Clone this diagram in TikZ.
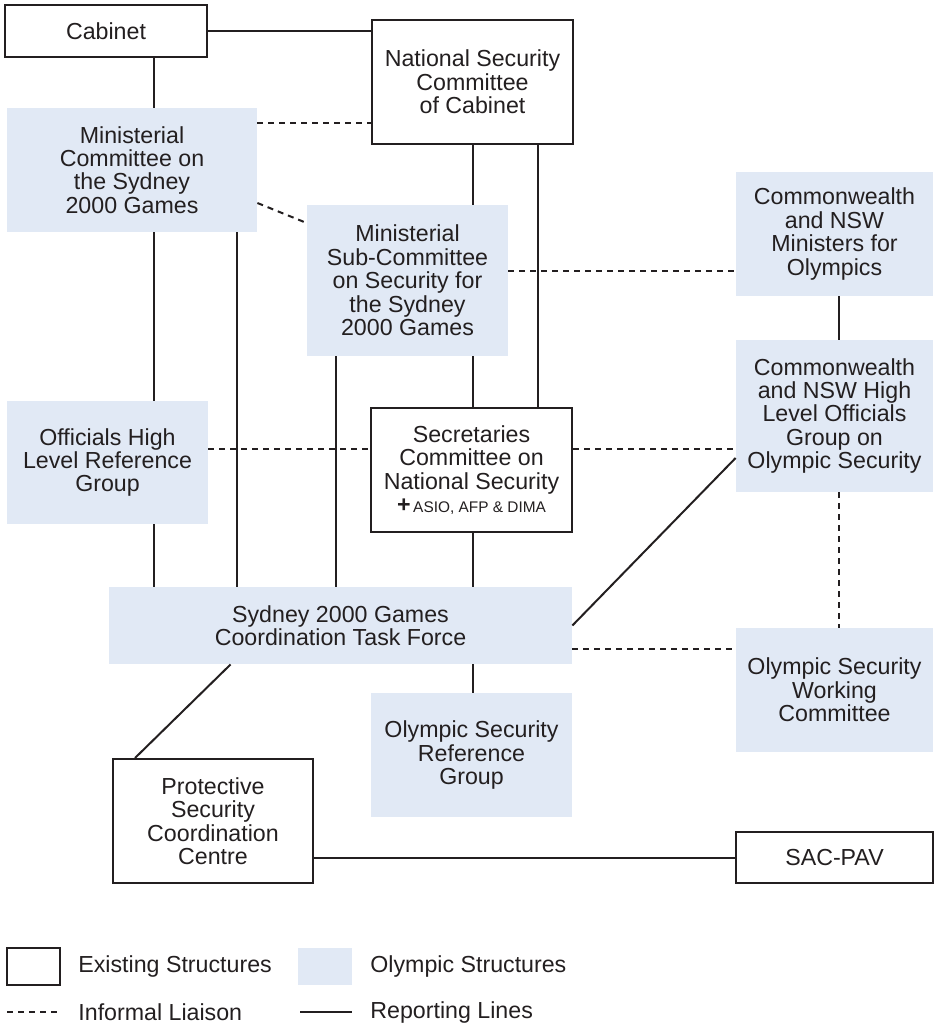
\documentclass[tikz,border=0pt]{standalone}
\usepackage{fontspec}
\setmainfont{Liberation Sans}
\definecolor{ink}{RGB}{35,31,32}
\definecolor{olyblue}{RGB}{225,233,245}
\newcommand{\boxfont}{\fontsize{11.6pt}{11.7pt}\selectfont}
\tikzset{>=stealth,
  every node/.style={font=\boxfont, text=ink},
  existing/.style={draw=ink, line width=1pt, fill=white, inner sep=0pt, align=center},
  olympic/.style={fill=olyblue, inner sep=0pt, align=center},
  report/.style={draw=ink, line width=1pt},
  liaison/.style={draw=ink, line width=1pt, dash pattern=on 3pt off 2.5pt},
  legtext/.style={anchor=west, inner sep=0pt}
}

\begin{document}
\begin{tikzpicture}[x=0.5pt, y=-0.5pt]
    \useasboundingbox (0,0) rectangle (934,1026);
    \node[existing, minimum width=101pt, minimum height=26pt] (cab) at (106,31) {Cabinet};
    \node[existing, minimum width=100.5pt, minimum height=62pt] (nscc) at (472.5,82) {National Security\\Committee\\of Cabinet};
    \node[olympic, minimum width=125pt, minimum height=62pt] (mcsg) at (132,170) {Ministerial\\Committee on\\the Sydney\\2000 Games};
    \node[olympic, minimum width=100.5pt, minimum height=75.5pt] (mscs) at (407.5,280.5) {Ministerial\\Sub-Committee\\on Security for\\the Sydney\\2000 Games};
    \node[olympic, minimum width=98.5pt, minimum height=62pt] (cnmo) at (834.5,234) {Commonwealth\\and NSW\\Ministers for\\Olympics};
    \node[olympic, minimum width=98.5pt, minimum height=76pt] (cnhl) at (834.5,416) {Commonwealth\\and NSW High\\Level Officials\\Group on\\Olympic Security};
    \node[olympic, minimum width=100.5pt, minimum height=61.5pt] (ohlr) at (107.5,462.5) {Officials High\\Level Reference\\Group};
    \node[existing, minimum width=100.5pt, minimum height=62pt] (scns) at (471.5,470) {Secretaries\\Committee on\\National Security\\\textbf{+}{\fontsize{7.7pt}{11.7pt}\selectfont\,ASIO, AFP \& DIMA}};
    \node[olympic, minimum width=231.5pt, minimum height=38.5pt] (tf) at (340.5,625.5) {Sydney 2000 Games\\Coordination Task Force};
    \node[olympic, minimum width=100.5pt, minimum height=62pt] (osrg) at (471.5,755) {Olympic Security\\Reference\\Group};
    \node[olympic, minimum width=98.5pt, minimum height=62pt] (oswc) at (834.5,690) {Olympic Security\\Working\\Committee};
    \node[existing, minimum width=100pt, minimum height=62pt] (pscc) at (213,821) {Protective\\Security\\Coordination\\Centre};
    \node[existing, minimum width=98.5pt, minimum height=25.5pt] (sac) at (834.5,857.5) {SAC-PAV};

    \coordinate (xa) at (154,0);
    \coordinate (xb) at (237,0);
    \coordinate (xc) at (336,0);
    \coordinate (xd) at (538,0);
    \coordinate (xe) at (839,0);
    \coordinate (ya) at (0,123);
    \coordinate (yb) at (0,271);
    \coordinate (yc) at (0,449);
    \coordinate (yd) at (0,649);

    \draw[report] (cab.east) -- (cab.east -| nscc.west);
    \draw[report] (cab.south -| xa) -- (mcsg.north -| xa);
    \draw[report] (mcsg.south -| xa) -- (ohlr.north -| xa);
    \draw[report] (ohlr.south -| xa) -- (tf.north -| xa);
    \draw[report] (mcsg.south -| xb) -- (tf.north -| xb);
    \draw[report] (mscs.south -| xc) -- (tf.north -| xc);
    \draw[report] (nscc.south) -- (mscs.north -| nscc.south);
    \draw[report] (mscs.south -| nscc.south) -- (scns.north -| nscc.south);
    \draw[report] (nscc.south -| xd) -- (scns.north -| xd);
    \draw[report] (scns.south -| nscc.south) -- (tf.north -| nscc.south);
    \draw[report] (tf.south -| nscc.south) -- (osrg.north -| nscc.south);
    \draw[report] (cnmo.south -| xe) -- (cnhl.north -| xe);
    \draw[report] (tf.east) -- ([yshift=-21pt]cnhl.west);
    \draw[report] ([xshift=61pt]tf.south west) -- ([xshift=11.5pt]pscc.north west);
    \draw[report] (pscc.east |- sac.west) -- (sac.west);

    \draw[liaison] (mcsg.east |- ya) -- (nscc.west |- ya);
    \draw[liaison] ([yshift=-16.5pt]mcsg.east) -- ([yshift=28.75pt]mscs.west);
    \draw[liaison] (mscs.east |- yb) -- (cnmo.west |- yb);
    \draw[liaison] (ohlr.east |- yc) -- (scns.west |- yc);
    \draw[liaison] (scns.east |- yc) -- (cnhl.west |- yc);
    \draw[liaison] (tf.east |- yd) -- (oswc.west |- yd);
    \draw[liaison] (cnhl.south -| xe) -- (oswc.north -| xe);

    \node[existing, minimum width=26.5pt, minimum height=18.5pt] (lgex) at (33.5,966.5) {};
    \node[legtext] (lgext) at (78,966.5) {Existing Structures};
    \node[olympic, minimum width=27pt, minimum height=18.5pt] (lgol) at (325,966.5) {};
    \node[legtext] (lgolt) at (370,966.5) {Olympic Structures};
    \coordinate (lgla) at (7,1012);
    \coordinate (lglb) at (58,1012);
    \coordinate (lgra) at (300,1012);
    \coordinate (lgrb) at (352,1012);
    \draw[liaison] (lgla) -- (lglb);
    \draw[report] (lgra) -- (lgrb);
    \node[legtext] (lglit) at (78,1012) {Informal Liaison};
    \node[legtext] (lgrlt) at (370,1012) {Reporting Lines};
\end{tikzpicture}
\end{document}
